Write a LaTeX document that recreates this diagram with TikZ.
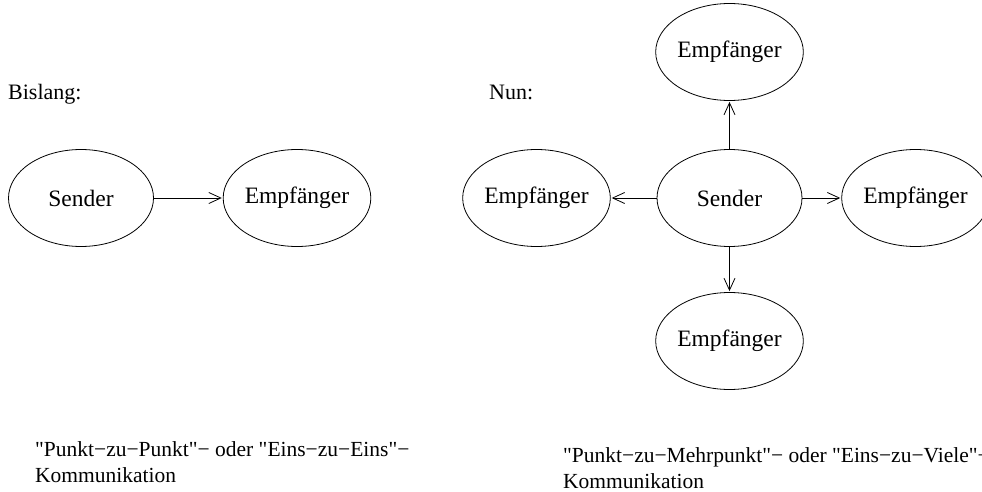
\documentclass[tikz,border=0pt]{standalone}
\usepackage{fontspec}
\setmainfont{Liberation Serif}[Ligatures=TeXOff]
\usetikzlibrary{shapes.geometric,arrows.meta}
\begin{document}
\begin{tikzpicture}[x=1pt,y=-1pt,
  party/.style={ellipse,draw,line width=0.8pt,minimum width=145pt,minimum height=97pt,inner sep=0pt,font=\fontsize{23.5}{26}\selectfont},
  msg/.style={-{Straight Barb[length=12pt,width=11pt,line width=0.8pt]},line width=0.8pt,shorten >=1pt},
  lbl/.style={inner sep=0pt,font=\fontsize{22}{26}\selectfont},
  captext/.style={inner sep=0pt,align=left,anchor=north west,font=\fontsize{21.5}{26}\selectfont}]
\clip (0,0) rectangle (982,492);
\useasboundingbox (0,0) rectangle (982,492);
% left part
\node[lbl,anchor=base west] (bislang) at (8,100) {Bislang:};
\node[party] (s1) at (81,198) {Sender};
\node[party] (e1) at (297,198) {Empfänger};
\draw[msg] (s1) -- (e1);
\node[captext] (t1) at (35,441.5) {"Punkt−zu−Punkt"− oder "Eins−zu−Eins"−\\Kommunikation};
% right part
\node[lbl,anchor=base west] (nun) at (489,100) {Nun:};
\node[party] (s2) at (729.5,198) {Sender};
\node[party] (el) at (536.5,198) {Empfänger};
\node[party] (er) at (915.5,198) {Empfänger};
\node[party] (et) at (729.5,52) {Empfänger};
\node[party] (eb) at (729.5,341) {Empfänger};
\draw[msg] (s2) -- (el);
\draw[msg] (s2) -- (er);
\draw[msg] (s2) -- (et);
\draw[msg] (s2) -- (eb);
\node[captext] (t2) at (563,447) {"Punkt−zu−Mehrpunkt"− oder "Eins−zu−Viele"−\\Kommunikation};
\end{tikzpicture}
\end{document}
